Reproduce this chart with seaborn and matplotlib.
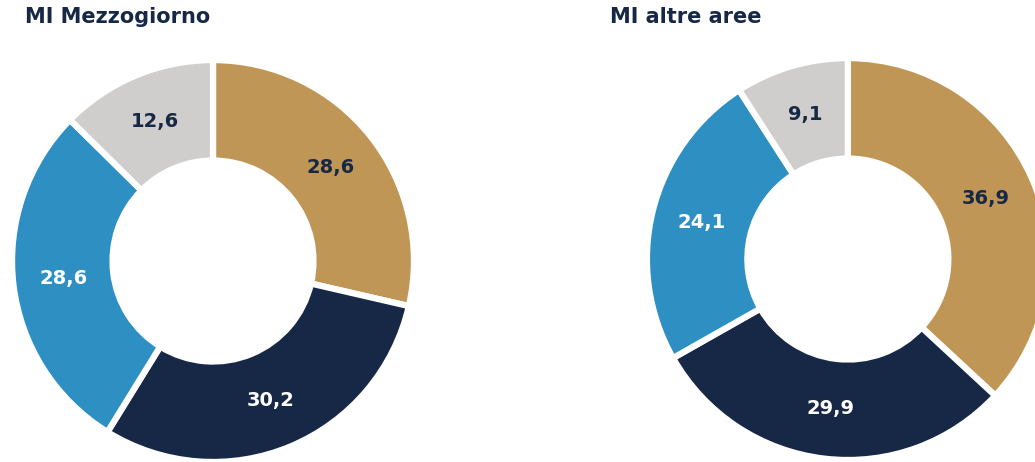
import matplotlib
matplotlib.use('Agg')
import matplotlib.pyplot as plt
import seaborn as sns

sns.set_theme(style='white')
plt.rcParams['font.family'] = ['DejaVu Sans']

# Data
categories = ['A', 'B', 'C', 'D']
mezzogiorno = [28.6, 30.2, 28.6, 12.6]
altre_aree = [36.9, 29.9, 24.1, 9.1]
titles = ['MI Mezzogiorno', 'MI altre aree']

colors = ['#BF9655', '#172846', '#2E90C2', '#D0CECC']
label_colors = ['#172846', 'white', 'white', '#172846']
navy = '#172846'


def fmt(v):
    return f"{v:.1f}".replace('.', ',')


def donut(ax, values):
    wedges, _ = ax.pie(values, colors=colors, startangle=90, counterclock=False,
                       radius=1.0,
                       wedgeprops=dict(width=0.5, edgecolor='white', linewidth=4.5))
    import numpy as np
    total = sum(values)
    start = 90.0
    for v, tc in zip(values, label_colors):
        mid = start - v / total * 360 / 2
        start -= v / total * 360
        r = 0.75
        x = r * np.cos(np.deg2rad(mid))
        y = r * np.sin(np.deg2rad(mid))
        ax.text(x, y, fmt(v), ha='center', va='center', color=tc,
                fontsize=14, fontweight='bold')
    ax.set_xlim(-1, 1)
    ax.set_ylim(-1, 1)
    ax.set_aspect('equal')
    ax.axis('off')


fig = plt.figure(figsize=(10.35, 4.62), dpi=100)
ax1 = fig.add_axes([0.0116, 0.0, 0.3884, 0.870])
ax2 = fig.add_axes([0.625, 0.0043, 0.3884, 0.870])
donut(ax1, mezzogiorno)
donut(ax2, altre_aree)

fig.text(25 / 1035, 1 - 17 / 462, titles[0], ha='left', va='center',
         color=navy, fontsize=15, fontweight='bold')
fig.text(610 / 1035, 1 - 17 / 462, titles[1], ha='left', va='center',
         color=navy, fontsize=15, fontweight='bold')

fig.savefig('out.png', dpi=100, facecolor='white')
